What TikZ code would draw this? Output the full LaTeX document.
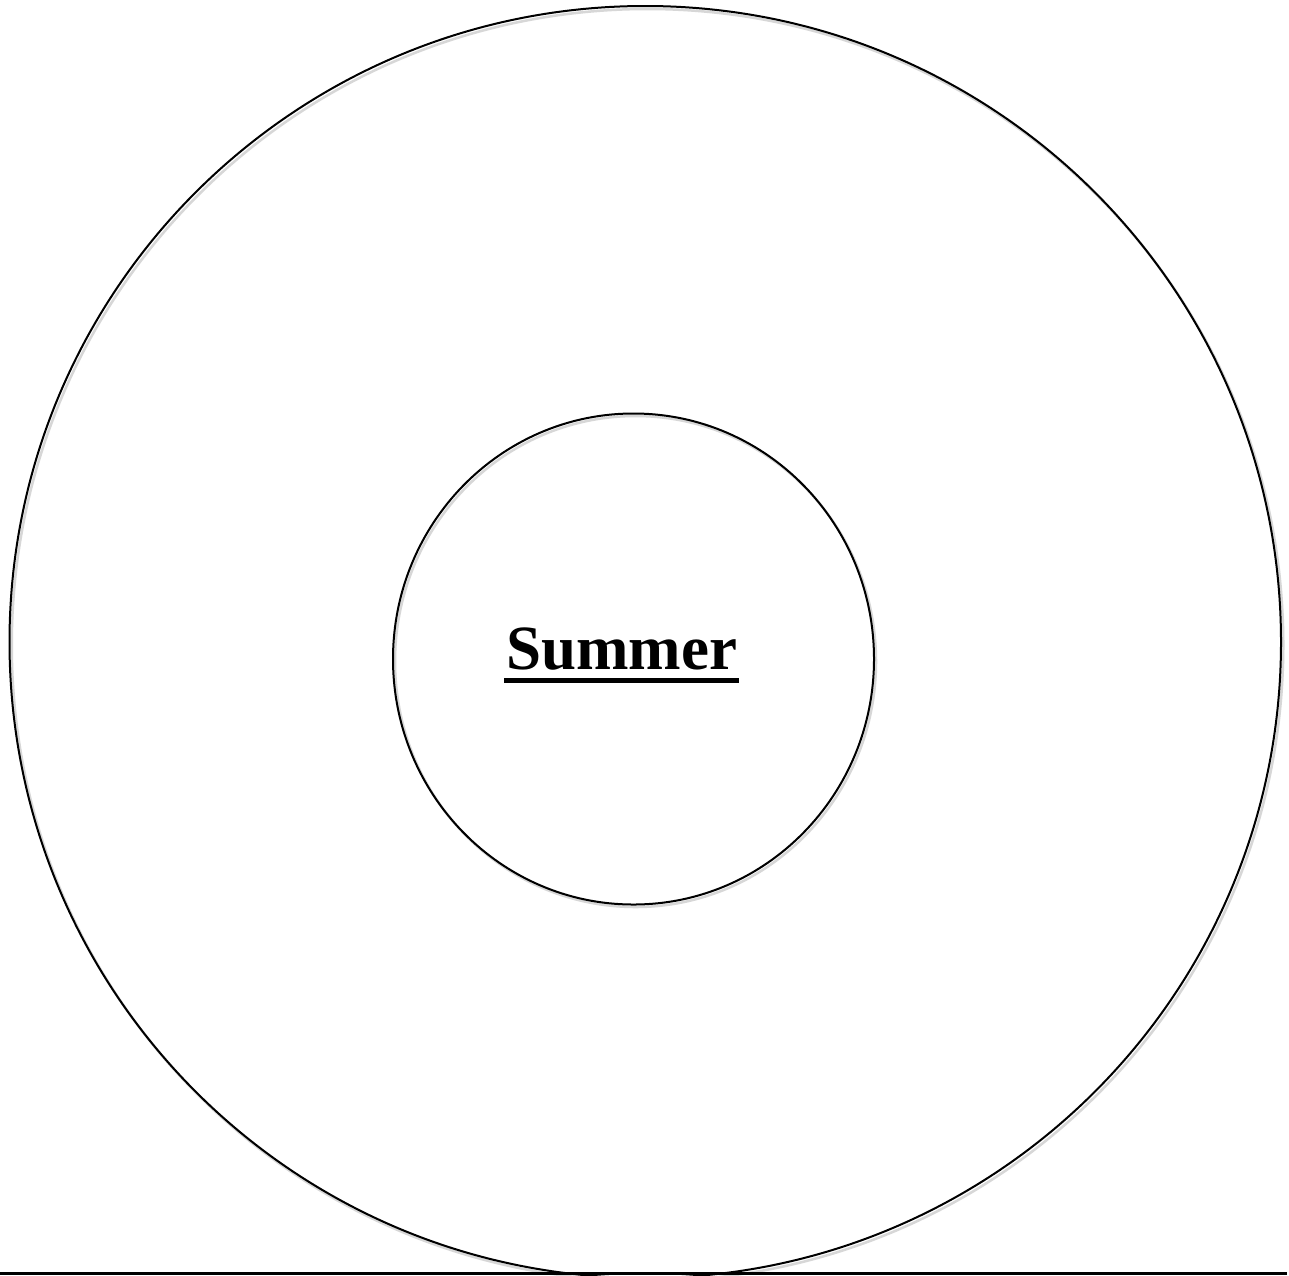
\documentclass[tikz,border=0pt]{standalone}
\usepackage{fontspec}
\setmainfont{Liberation Serif}
\usetikzlibrary{shapes.geometric}
\definecolor{shadowgray}{RGB}{215,215,215}
\tikzset{
  ring/.style={ellipse, draw=black, line width=2pt, inner sep=0pt},
  ringshadow/.style={ellipse, draw=shadowgray, line width=2.5pt, inner sep=0pt},
}
\begin{document}
\begin{tikzpicture}[x=1pt,y=-1pt]
\useasboundingbox (0,0) rectangle (1289,1275);
\clip (0,0) rectangle (1289,1275);
\fill[white] (0,0) rectangle (1289,1275);
% outer ring
\node[ringshadow, minimum width=1271.5pt, minimum height=1272pt] (outershadow) at (647.5,645) {};
\node[ring, minimum width=1271.5pt, minimum height=1272pt] (outer) at (645.25,642) {};
% inner ring
\node[ringshadow, minimum width=481pt, minimum height=491pt] (innershadow) at (635.5,661.5) {};
\node[ring, minimum width=481pt, minimum height=491pt] (inner) at (633.5,659) {};
% label
\node[font=\fontsize{63}{72}\selectfont\bfseries, anchor=base, inner sep=0pt] (label) at (621.5,669) {Summer};
\fill[black] (504,677.5) rectangle (739,683);
% bottom rule
\coordinate (ruleL) at (0,1273.5);
\coordinate (ruleR) at (1287,1273.5);
\draw[line width=3.5pt, black] (ruleL) -- (ruleR);
\end{tikzpicture}
\end{document}
